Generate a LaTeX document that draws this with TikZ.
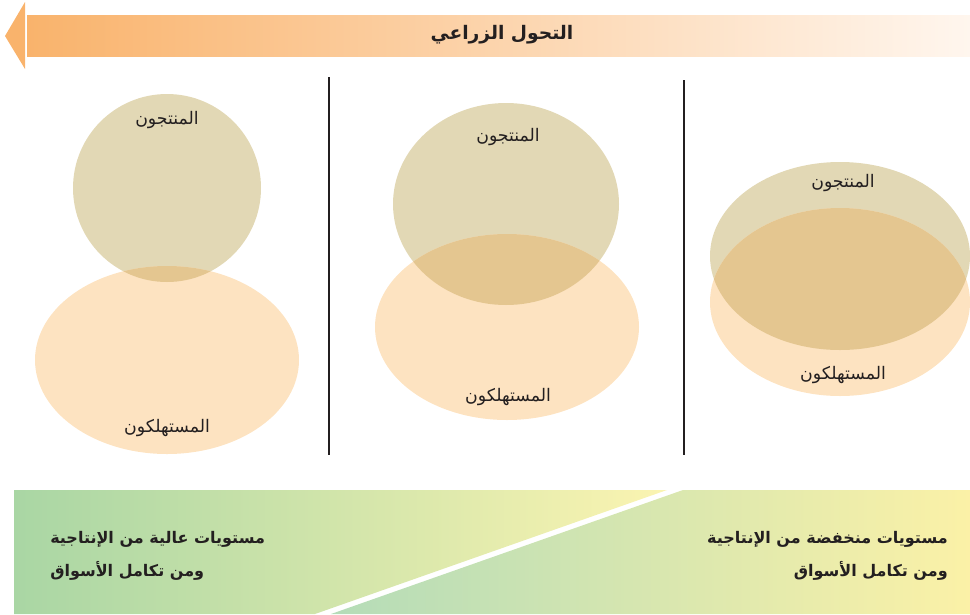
\documentclass[tikz,border=0pt]{standalone}
\usepackage{fontspec}
\usepackage{tikz}
\TeXXeTstate=1
\newfontfamily\arabicfont[Script=Arabic]{DejaVu Sans}

\definecolor{prod}{HTML}{E2D8B5}
\definecolor{cons}{HTML}{FDE3C1}
\definecolor{both}{HTML}{E4C690}
\definecolor{ink}{HTML}{231F20}
\definecolor{barL}{HTML}{F9B36C}
\definecolor{barR}{HTML}{FFF6EE}
\definecolor{grnL}{HTML}{A9D6A4}
\definecolor{ylwR}{HTML}{FBF4B1}
\definecolor{grnM}{HTML}{B4DCB8}
\definecolor{ylwE}{HTML}{FBF1A7}

\begin{document}
\begin{tikzpicture}[x=0.75pt, y=-0.75pt]
        \tikzset{every node/.style={font=\arabicfont\fontsize{13}{15}\selectfont, text=ink, inner sep=0pt}}
        \tikzset{ttl/.style={font=\arabicfont\bfseries\fontsize{14}{16}\selectfont}}
        \tikzset{lvl/.style={font=\arabicfont\bfseries\fontsize{12}{25}\selectfont}}
        \tikzset{sep/.style={ink, line width=0.8pt}}
        \useasboundingbox (0,0) rectangle (970,614);

        % title bar
        \fill[barL] (5,36) -- (25,2) -- (25,69) -- cycle;
        \shade[left color=barL, right color=barR] (27,15) rectangle (970,56);
        \node[ttl] (title) at (502,35) {\beginR التحول الزراعي\endR};

        % separators
        \draw[sep] (329,77) -- (329,455);
        \draw[sep] (684,80) -- (684,455);

        % panel 1
        \fill[prod] (167,188) ellipse [x radius=94, y radius=94];
        \fill[cons] (167,360) ellipse [x radius=132, y radius=94];
        \begin{scope}
          \clip (167,188) ellipse [x radius=94, y radius=94];
          \fill[both] (167,360) ellipse [x radius=132, y radius=94];
        \end{scope}
        \node (prodA) at (167,120) {\beginR المنتجون\endR};
        \node (consA) at (167,428) {\beginR المستهلكون\endR};

        % panel 2
        \fill[prod] (506,204) ellipse [x radius=113, y radius=101];
        \fill[cons] (507,327) ellipse [x radius=132, y radius=93];
        \begin{scope}
          \clip (506,204) ellipse [x radius=113, y radius=101];
          \fill[both] (507,327) ellipse [x radius=132, y radius=93];
        \end{scope}
        \node (prodB) at (508,137) {\beginR المنتجون\endR};
        \node (consB) at (508,397) {\beginR المستهلكون\endR};

        % panel 3
        \fill[prod] (840,256) ellipse [x radius=130, y radius=94];
        \fill[cons] (840,302) ellipse [x radius=130, y radius=94];
        \begin{scope}
          \clip (840,256) ellipse [x radius=130, y radius=94];
          \fill[both] (840,302) ellipse [x radius=130, y radius=94];
        \end{scope}
        \node (prodC) at (843,183) {\beginR المنتجون\endR};
        \node (consC) at (843,375) {\beginR المستهلكون\endR};

        % bottom band
        \shade[left color=grnL, right color=ylwR] (14,490) -- (667,490) -- (315,614) -- (14,614) -- cycle;
        \shade[left color=grnM, right color=ylwE] (683,490) -- (970,490) -- (970,614) -- (331,614) -- cycle;
        \node[lvl, anchor=west, align=left] (high) at (50,556)
          {\beginR مستويات عالية من الإنتاجية\endR\\ \beginR ومن تكامل الأسواق\endR};
        \node[lvl, anchor=east, align=right] (low) at (948,556)
          {\beginR مستويات منخفضة من الإنتاجية\endR\\ \beginR ومن تكامل الأسواق\endR};
\end{tikzpicture}
\end{document}
